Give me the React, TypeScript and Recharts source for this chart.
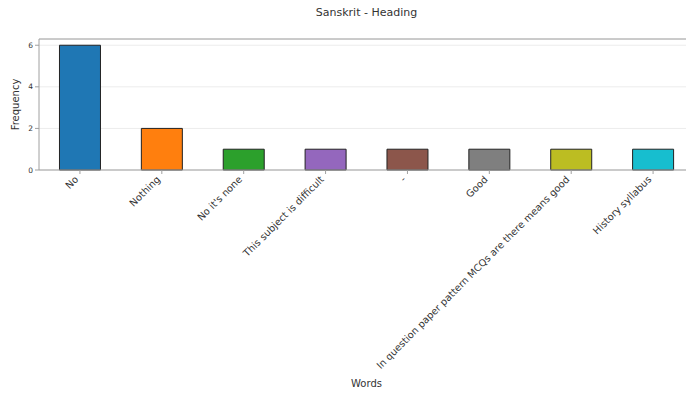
import { Bar, BarChart, CartesianGrid, Cell, ReferenceLine, XAxis, YAxis } from "recharts"

const words = [
  "No",
  "Nothing",
  "No it's none",
  "This subject is difficult",
  "-",
  "Good",
  "In question paper pattern MCQs are there means good",
  "History syllabus",
]
const counts = [6, 2, 1, 1, 1, 1, 1, 1]
const colors = ["#1f77b4", "#ff7f0e", "#2ca02c", "#9467bd", "#8c564b", "#7f7f7f", "#bcbd22", "#17becf"]
const yTicks = [0, 2, 4, 6]

const data = words.map((w, i) => ({ word: w, count: counts[i] }))

const font = "'DejaVu Sans', sans-serif"
const spine = "#a0a0a0"

const WordTick = (props: any) => {
  const { x, y, payload } = props
  return (
    <g transform={`translate(${x - 1},${y + 4})`}>
      <text
        x={0}
        y={0}
        textAnchor="end"
        transform="rotate(-45)"
        fontSize={9.8}
        fontFamily={font}
        fill="#333"
      >
        {payload.value}
      </text>
    </g>
  )
}

export default function App() {
  return (
    <div style={{ position: "absolute", left: 0, top: 0, width: 686, height: 396, overflow: "hidden", background: "#fff", fontFamily: font }}>
      <div style={{ position: "absolute", left: 0, width: 733, top: 6, textAlign: "center", fontSize: 11, color: "#333" }}>
        Sanskrit - Heading
      </div>
      <BarChart
        width={700}
        height={396}
        data={data}
        margin={{ top: 39, right: 6, left: 0, bottom: 0 }}
        barCategoryGap="25%"
      >
        <CartesianGrid vertical={false} stroke="#ececec" />
        <ReferenceLine y={6.3} stroke={spine} strokeWidth={1.2} />
        <XAxis
          dataKey="word"
          interval={0}
          height={226}
          stroke={spine}
          tickSize={4}
          tick={<WordTick />}
          label={(p: any) => {
            const vb = p.viewBox
            return (
              <text x={vb.x + vb.width / 2} y={387} textAnchor="middle" fontSize={10} fontFamily={font} fill="#333">
                Words
              </text>
            )
          }}
        />
        <YAxis
          width={39}
          domain={[0, 6.3]}
          ticks={yTicks}
          stroke={spine}
          tickSize={4}
          tick={{ fontSize: 7.5, fill: "#333", fontFamily: font }}
          label={(p: any) => {
            const vb = p.viewBox
            const cy = vb.y + vb.height / 2
            return (
              <text x={19} y={cy} textAnchor="middle" transform={`rotate(-90, 19, ${cy})`} fontSize={10} fontFamily={font} fill="#333">
                Frequency
              </text>
            )
          }}
        />
        <Bar dataKey="count" stroke="#222" strokeWidth={1} isAnimationActive={false}>
          {data.map((d, i) => (
            <Cell key={d.word} fill={colors[i]} />
          ))}
        </Bar>
      </BarChart>
    </div>
  )
}
